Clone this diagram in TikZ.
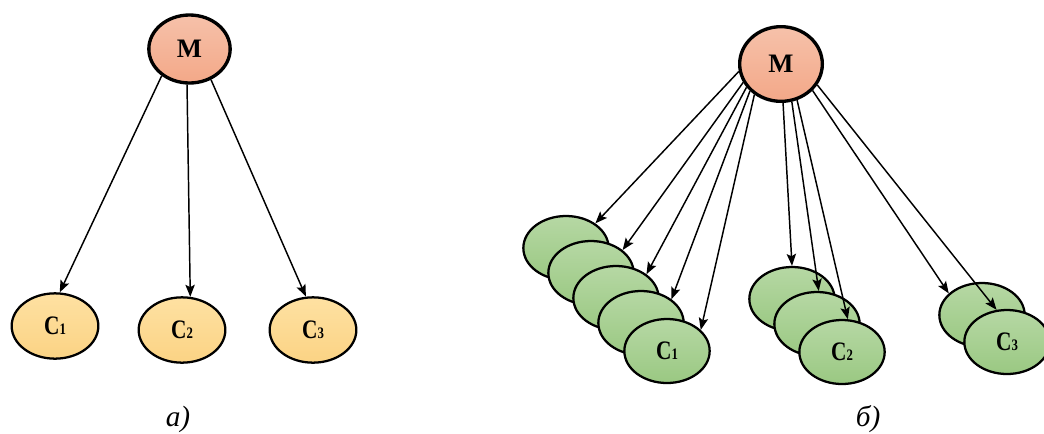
\documentclass[tikz,border=0pt]{standalone}
\usepackage{fontspec}
\setmainfont{Liberation Serif}
\newfontfamily\narrowserif[FakeStretch=0.8]{Liberation Serif}
\usetikzlibrary{shapes.geometric,arrows.meta}

\definecolor{mtop}{RGB}{246,193,170}
\definecolor{mbot}{RGB}{243,168,136}
\definecolor{otop}{RGB}{254,225,162}
\definecolor{obot}{RGB}{251,211,132}
\definecolor{gtop}{RGB}{182,216,164}
\definecolor{gbot}{RGB}{154,200,130}

% client label: condensed bold C with a small index digit
\newcommand{\clientlabel}[1]{{\narrowserif\bfseries\fontsize{20}{20}\selectfont C}{\narrowserif\bfseries\fontsize{12}{12}\selectfont #1}}

\tikzset{
  master/.style={ellipse, draw=black, line width=2.5pt, inner sep=0pt,
    top color=mtop, bottom color=mbot,
    font=\bfseries\fontsize{20}{20}\selectfont},
  clientA/.style={ellipse, draw=black, line width=1.7pt, inner sep=0pt,
    minimum width=65pt, minimum height=49pt,
    top color=otop, bottom color=obot},
  clientB/.style={ellipse, draw=black, line width=1.7pt, inner sep=0pt,
    minimum width=64pt, minimum height=48pt,
    top color=gtop, bottom color=gbot},
  link/.style={line width=1.1pt, -{Stealth[length=9pt,width=7pt,inset=1.8pt]}},
  caption/.style={font=\itshape\fontsize{22}{22}\selectfont}
}

\begin{document}
\begin{tikzpicture}[x=0.75pt,y=0.75pt]
\clip (0,0) rectangle (1044,-433);

% ---- a) one master, three clients ----
\node[master, minimum width=61pt, minimum height=51pt] (ML) at (189.5,-49) {M};
\node[clientA] (A1) at (55,-326) {\clientlabel{1}};
\node[clientA] (A2) at (182,-330) {\clientlabel{2}};
\node[clientA] (A3) at (313,-330) {\clientlabel{3}};

\draw[link] (ML.224) -- (A1.82);
\draw[link] (ML.266) -- (A2.76);
\draw[link] (ML.305) -- (A3.102);

\node[caption] (capA) at (178,-419) {а)};

% ---- б) one master, stacked client replicas ----
\node[master, minimum width=62pt, minimum height=56pt] (MR) at (781,-64) {M};

\node[clientB] (E1) at (566,-248) {};
\node[clientB] (E2) at (591,-273) {};
\node[clientB] (E3) at (616,-298) {};
\node[clientB] (E4) at (641,-323) {};
\node[clientB] (E5) at (667,-351) {\clientlabel{1}};

\node[clientB] (F1) at (792,-299) {};
\node[clientB] (F2) at (817,-324) {};
\node[clientB] (F3) at (842,-352) {\clientlabel{2}};

\node[clientB] (G1) at (982,-315) {};
\node[clientB] (G2) at (1007,-342) {\clientlabel{3}};

\draw[link] (MR.190) -- (E1.40);
\draw[link] (MR.206) -- (E2.36);
\draw[link] (MR.214) -- (E3.38);
\draw[link] (MR.221) -- (E4.38);
\draw[link] (MR.229) -- (E5.32);

\draw[link] (MR.273) -- (F1.90);
\draw[link] (MR.286) -- (F2.87);
\draw[link] (MR.294) -- (F3.80);

\draw[link] (MR.320) -- (G1.147);
\draw[link] (MR.330) -- (G2.108);

\node[caption] (capB) at (868,-419) {б)};
\end{tikzpicture}
\end{document}
